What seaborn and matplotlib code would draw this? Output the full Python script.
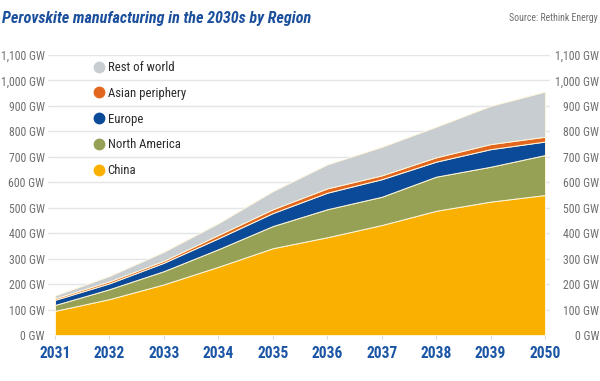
import matplotlib
matplotlib.use("Agg")
import matplotlib.pyplot as plt
import seaborn as sns
import numpy as np
from matplotlib import font_manager
from matplotlib.font_manager import FontProperties
from matplotlib.lines import Line2D

years = ["2031", "2032", "2033", "2034", "2035", "2036", "2037", "2038", "2039", "2050"]
china = [95, 141, 199, 268, 341, 384, 432, 488, 524, 550]
north_america = [23, 39, 52, 69, 87, 110, 111, 134, 137, 157]
europe = [20, 23, 33, 43, 51, 65, 69, 59, 69, 53]
asian_periphery = [6, 8, 8, 13, 15, 17, 15, 17, 20, 19]
rest_of_world = [11, 21, 35, 46, 71, 94, 112, 120, 150, 177]
series_names = ["China", "North America", "Europe", "Asian periphery", "Rest of world"]
colors = ["#F9B000", "#97A155", "#0B4A99", "#E3661F", "#C8CDD2"]
y_ticks = list(range(0, 1101, 100))

sns.set_theme(style="white")

# --- pick a condensed font if one exists ---------------------------------
ttf = font_manager.fontManager.ttflist
def is_cond(f):
    s = str(f.stretch).lower()
    return ("condensed" in s or "narrow" in s or "Condensed" in f.name or "Narrow" in f.name
            or "condensed" in f.fname.lower() or "narrow" in f.fname.lower())
cond = [f for f in ttf if is_cond(f) and "semi" not in f.fname.lower() and "extra" not in f.fname.lower()
        and "ultra" not in f.fname.lower()]
pref = ["Roboto", "Open Sans", "Noto Sans", "Liberation Sans", "DejaVu Sans", "Lato", "Inter"]
def rank(f):
    for i, p in enumerate(pref):
        if f.name.startswith(p):
            return i
    return 99
cond.sort(key=rank)

def fp(bold=False, italic=False, size=10, fallback_size=None):
    want_w = 700 if bold else 400
    for f in cond:
        w = f.weight if isinstance(f.weight, int) else (700 if "bold" in str(f.weight).lower() else 400)
        it = f.style in ("italic", "oblique")
        if abs(w - want_w) <= 100 and it == italic:
            return FontProperties(fname=f.fname, size=size)
    return FontProperties(family="Liberation Sans", weight="bold" if bold else "normal",
                          style="italic" if italic else "normal", size=fallback_size or size * 0.85)

fig = plt.figure(figsize=(6, 3.81), dpi=100)
W, H = 600, 381
x_left_px, x_right_px = 48, 550
y_bot_px, y_top_px = 335, 55
ax = fig.add_axes([x_left_px / W, 1 - y_bot_px / H, (x_right_px - x_left_px) / W, (y_bot_px - y_top_px) / H])

x = np.arange(len(years))
step = (545 - 55) / 9.0
ax.set_xlim(-(55 - x_left_px) / step, 9 + (x_right_px - 545) / step)
ax.set_ylim(0, 1100)

ax.stackplot(x, china, north_america, europe, asian_periphery, rest_of_world,
             colors=colors, labels=series_names, edgecolor="#FFF6DA", linewidth=0.7, zorder=2)

ax.set_yticks(y_ticks)
ax.yaxis.grid(True, color="#E3E5E8", linewidth=1.0, zorder=0)
ax.xaxis.grid(False)
for s in ax.spines.values():
    s.set_visible(False)
ax.set_axisbelow(True)

tick_fp = fp(size=8.5, fallback_size=7.5)
ylabels = [f"{v:,} GW" for v in y_ticks]
ax.set_yticklabels(ylabels, fontproperties=tick_fp, color="#6E6E6E")
ax.tick_params(axis="y", length=0, pad=2.5)

year_fp = fp(bold=True, size=11.2, fallback_size=9.5)
ax.set_xticks(x)
ax.set_xticklabels(years, fontproperties=year_fp, color="#1B55A5")
ax.tick_params(axis="x", length=3, color="#D8DADD", width=0.8, pad=5)
ax.xaxis.set_ticks_position("bottom")

ax2 = ax.twinx()
ax2.set_ylim(ax.get_ylim())
ax2.set_yticks(y_ticks)
ax2.set_yticklabels(ylabels, fontproperties=tick_fp, color="#6E6E6E")
ax2.tick_params(axis="y", length=0, pad=35.5)
for t in ax2.get_yticklabels():
    t.set_horizontalalignment("right")
for s in ax2.spines.values():
    s.set_visible(False)
ax2.grid(False)

leg_handles = [Line2D([0], [0], marker="o", color="none", markerfacecolor=c, markeredgecolor="none", markersize=8.5)
               for c in colors]
leg = ax.legend(leg_handles[::-1], series_names[::-1], loc="upper left",
                bbox_to_anchor=((86 - x_left_px) / (x_right_px - x_left_px), 1 - (56 - y_top_px) / (y_bot_px - y_top_px)),
                frameon=False, prop=fp(size=9.2, fallback_size=8), labelspacing=1.0, handletextpad=0.1,
                handlelength=1.2, borderaxespad=0)
for t in leg.get_texts():
    t.set_color("#2B2B2B")

fig.text(2 / W, 1 - 18 / H, "Perovskite manufacturing in the 2030s by Region", color="#1B4F9C",
         fontproperties=fp(bold=True, italic=True, size=11.6, fallback_size=9.5), va="center", ha="left")
fig.text(598 / W, 1 - 18 / H, "Source: Rethink Energy", color="#6E6E6E",
         fontproperties=fp(size=7, fallback_size=6), va="center", ha="right")

fig.savefig("out.png", dpi=100)
